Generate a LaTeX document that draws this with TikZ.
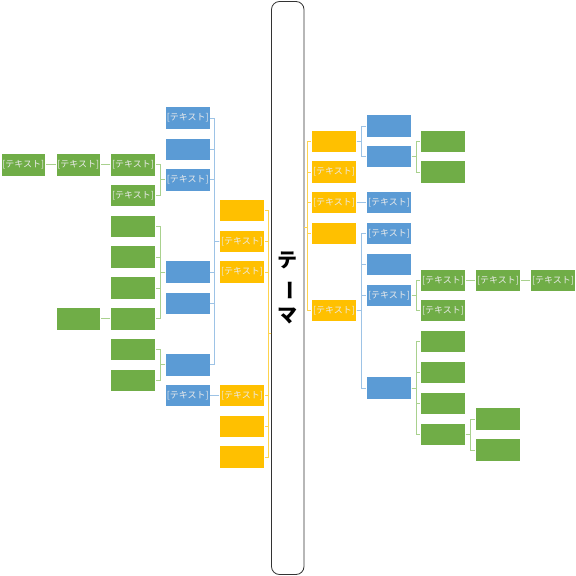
\documentclass[tikz,border=0pt]{standalone}
\usepackage{fontspec}
\newfontfamily\jpfont{Noto Sans CJK JP}
\definecolor{smOrange}{HTML}{FFC000}
\definecolor{smBlue}{HTML}{5B9BD5}
\definecolor{smGreen}{HTML}{70AD47}
\definecolor{smOrangeL}{HTML}{FFD34D}
\definecolor{smBlueL}{HTML}{9DC3E6}
\definecolor{smGreenL}{HTML}{A9D18E}

\begin{document}
\begin{tikzpicture}[
    x=1pt,y=-1pt,
    every node/.style={font=\jpfont\fontsize{9}{10}\selectfont, text=white!92!black, inner sep=0pt},
    cell/.style={draw=white, line width=0.6pt, minimum width=44.5pt, minimum height=22.5pt},
    ocell/.style={cell, fill=smOrange},
    bcell/.style={cell, fill=smBlue},
    gcell/.style={cell, fill=smGreen},
    oline/.style={draw=smOrangeL, line width=0.8pt},
    bline/.style={draw=smBlueL, line width=0.8pt},
    gline/.style={draw=smGreenL, line width=0.8pt}
]
    \useasboundingbox (0,0) rectangle (576,576);

    % theme
    \node[draw=black!80, line width=0.8pt, rounded corners=8pt, minimum width=32.5pt, minimum height=573pt,
          text=black, align=center, font=\jpfont\bfseries\fontsize{20}{27.5}\selectfont]
        (theme) at (287.75,288) {テ\\\rotatebox[origin=c]{-90}{ー}\\マ};
    \coordinate (tl) at (theme.west |- 0,333);
    \coordinate (tr) at (theme.east |- 0,227);

    % left side
    \foreach \n/\y/\t in {O1/210.5/,O2/241.5/[テキスト],O3/272/[テキスト],O4/395.5/[テキスト],O5/426.5/,O6/457/}
        \node[ocell] (\n) at (242,\y) {\t};
    \foreach \n/\y/\t in {LB1/118/[テキスト],LB2/149.2/,LB3/179.7/[テキスト],LB4/272/,LB5/303.3/,LB6/364.7/,LB7/395.5/[テキスト]}
        \node[bcell] (\n) at (187.7,\y) {\t};
    \foreach \n/\y/\t in {LG1/164.7/[テキスト],LG2/195.3/[テキスト],LG3/226.2/,LG4/257/,LG5/288/,LG6/318.7/,LG7/349.3/,LG8/380.3/}
        \node[gcell] (\n) at (133,\y) {\t};
    \node[gcell] (LG9) at (78.3,164.7) {[テキスト]};
    \node[gcell] (LG10) at (23.3,164.7) {[テキスト]};
    \node[gcell] (LG11) at (78.3,318.7) {};

    % right side
    \foreach \n/\y/\t in {R1/141.3/,R2/172/[テキスト],R3/202.5/[テキスト],R4/233.5/,R5/310.5/[テキスト]}
        \node[ocell] (\n) at (334,\y) {\t};
    \foreach \n/\y/\t in {B1/126/,B2/156.2/,B3/202.5/[テキスト],B4/233.5/[テキスト],B5/264.5/,B6/295.2/[テキスト],B7/388/}
        \node[bcell] (\n) at (389,\y) {\t};
    \foreach \n/\y/\t in {G1/141.3/,G2/172/,G3/280.2/[テキスト],G4/310.5/[テキスト],G7/341.5/,G8/372.5/,G9/403.5/,G10/434.3/}
        \node[gcell] (\n) at (443,\y) {\t};
    \node[gcell] (G5) at (498,280.2) {[テキスト]};
    \node[gcell] (G6) at (553,280.2) {[テキスト]};
    \node[gcell] (G11) at (498,419) {};
    \node[gcell] (G12) at (498,450) {};

    % connectors
    \foreach \c in {O1,O2,O3,O4,O5,O6}
        \draw[oline] (tl) -- ++(-3,0) |- (\c.east);
    \foreach \c in {R1,R2,R3,R4,R5}
        \draw[oline] (tr) -- ++(3,0) |- (\c.west);

    \foreach \c in {LB1,LB2,LB3,LB4,LB5,LB6}
        \draw[bline] (O2.west) -- ++(-5,0) |- (\c.east);
    \draw[bline] (O4.west) -- (LB7.east);
    \foreach \p/\c in {LB3/LG1,LB3/LG2,LB4/LG3,LB4/LG4,LB4/LG5,LB4/LG6,LB6/LG7,LB6/LG8}
        \draw[gline] (\p.west) -- ++(-5,0) |- (\c.east);
    \draw[gline] (LG1.west) -- (LG9.east);
    \draw[gline] (LG9.west) -- (LG10.east);
    \draw[gline] (LG6.west) -- (LG11.east);

    \foreach \p/\c in {R1/B1,R1/B2,R5/B4,R5/B5,R5/B6,R5/B7}
        \draw[bline] (\p.east) -- ++(5,0) |- (\c.west);
    \draw[bline] (R3.east) -- (B3.west);
    \foreach \p/\c in {B2/G1,B2/G2,B6/G3,B6/G4,B7/G7,B7/G8,B7/G9,B7/G10,G10/G11,G10/G12}
        \draw[gline] (\p.east) -- ++(5,0) |- (\c.west);
    \draw[gline] (G3.east) -- (G5.west);
    \draw[gline] (G5.east) -- (G6.west);
\end{tikzpicture}
\end{document}
